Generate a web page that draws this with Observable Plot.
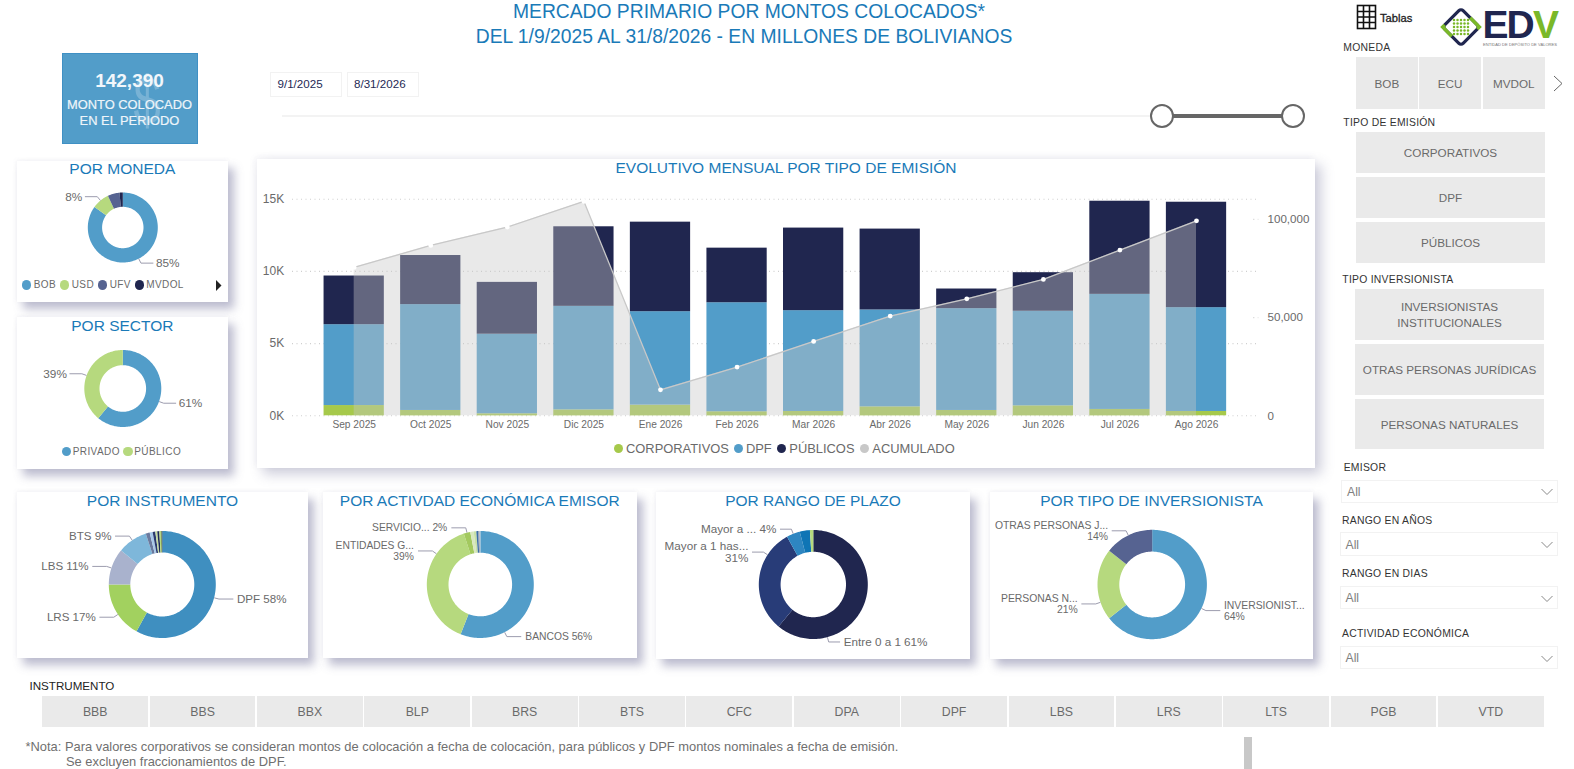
<!DOCTYPE html>
<html lang="es"><head><meta charset="utf-8">
<script src="https://cdn.jsdelivr.net/npm/d3@7"></script>
<script src="https://cdn.jsdelivr.net/npm/@observablehq/plot@0.6"></script>
<style>
html,body{margin:0;padding:0;background:#fff;width:1574px;height:769px;overflow:hidden;font-family:"Liberation Sans",Arial,sans-serif}
#page{position:relative;width:1574px;height:769px;overflow:hidden}
.a{position:absolute;box-sizing:border-box}
.card{position:absolute;background:#fff;box-shadow:6px 7px 9px rgba(95,95,140,.42),-1px -1px 4px rgba(120,120,150,.08)}
.ttl{position:absolute;left:0;right:0;text-align:center;color:#1a7ab8;font-size:15.5px;white-space:nowrap}
.btn{position:absolute;box-sizing:border-box;background:#eaeaea;color:#6a6a6a;font-size:11.7px;display:flex;align-items:center;justify-content:center;text-align:center;line-height:16px;padding-top:1.5px}
.btn.wide{font-size:12.3px}
.lbl{position:absolute;color:#333;font-size:10.4px;letter-spacing:.25px;white-space:nowrap;line-height:12px}
.sel{position:absolute;box-sizing:border-box;background:#fff;border:1.5px solid #f2f2f2;color:#808080;font-size:12.2px;display:flex;align-items:center;padding-left:5px;padding-top:1.5px}
.leg{position:absolute;white-space:nowrap;color:#6a6a6a}
.dotk{position:absolute;border-radius:50%}
svg{display:block}
</style></head><body><div id="page"></div>
<script>
// ---------- Monthly chart ----------
const months = ["Sep 2025","Oct 2025","Nov 2025","Dic 2025","Ene 2026","Feb 2026","Mar 2026","Abr 2026","May 2026","Jun 2026","Jul 2026","Ago 2026"];
const corporativos = [710,370,140,410,740,280,300,620,370,690,440,300];
const dpf = [5600,7330,5510,7170,6470,7550,6980,6710,7050,6550,7970,7190];
const publicos = [3370,3400,3590,5510,6200,3780,5720,5600,1360,2670,6450,7300];
const acumulado = [75560,86760,96080,109160,13240,24800,37880,50760,59570,69450,84370,99290];
const seriesNames = ["CORPORATIVOS","DPF","PÚBLICOS"];
const seriesColors = ["#a6c94b","#529dc9","#20264f"];
const leftTicks = [0,5000,10000,15000];
const rightTicks = [0,50000,100000];

// ---------- Donuts ----------
const monedaNames = ["BOB","USD","UFV","MVDOL"];
const monedaValues = [85,8,5.5,1.5];
const monedaColors = ["#529dc9","#b6d97e","#566391","#20264f"];
const monedaLabels = ["85%","8%",null,null];

const sectorNames = ["PRIVADO","PÚBLICO"];
const sectorValues = [61,39];
const sectorColors = ["#529dc9","#b6d97e"];
const sectorLabels = ["61%","39%"];

const instrumentoNames = ["DPF","LRS","LBS","BTS","BBB","BBS","BBX","BLP","BRS","CFC","PGB","VTD"];
const instrumentoValues = [58,17,11,9,1.2,.9,.8,.6,.6,.4,.3,.2];
const instrumentoColors = ["#3f8fc0","#a2d15f","#a9b2cd","#7eb7da","#6b7a9e","#a8c8e8","#2b3a6e","#c4dba0","#1f2a5a","#b6d97e","#88b040","#20264f"];
const instrumentoLabels = ["DPF 58%","LRS 17%","LBS 11%","BTS 9%",null,null,null,null,null,null,null,null];

const actividadValues = [56,39,2,1,.8,.6,.4,.2];
const actividadColors = ["#529dc9","#b6d97e","#a3c95f","#d9e8c0","#c8e0a8","#3b6ea8","#8a94a8","#cfd6e0"];
const actividadLabels = ["BANCOS 56%","ENTIDADES G...\n39%","SERVICIO... 2%",null,null,null,null,null];

const plazoValues = [61,31,4,3,1];
const plazoColors = ["#20264f","#283c78","#2e86c1","#0f75b5","#b6d97e"];
const plazoLabels = ["Entre 0 a 1 61%","Mayor a 1 has...\n31%","Mayor a ... 4%",null,null];

const inversionistaValues = [64.4,21.2,14.4];
const inversionistaColors = ["#529dc9","#b6d97e","#566391"];
const inversionistaLabels = ["INVERSIONIST...\n64%","PERSONAS N...\n21%","OTRAS PERSONAS J...\n14%"];

// ---------- Slicers ----------
const monedaBtns = ["BOB","ECU","MVDOL"];
const emisionBtns = ["CORPORATIVOS","DPF","PÚBLICOS"];
const inversionistaBtns = ["INVERSIONISTAS<br>INSTITUCIONALES","OTRAS PERSONAS JURÍDICAS","PERSONAS NATURALES"];
const instrumentoBtns = ["BBB","BBS","BBX","BLP","BRS","BTS","CFC","DPA","DPF","LBS","LRS","LTS","PGB","VTD"];

const page = document.getElementById("page");
function add(cls, x, y, w, h, html, css, parent){
  const e = document.createElement("div"); e.className = cls;
  e.style.left = x+"px"; e.style.top = y+"px";
  if (w!=null) e.style.width = w+"px"; if (h!=null) e.style.height = h+"px";
  if (html!=null) e.innerHTML = html; if (css) e.style.cssText += css;
  (parent||page).appendChild(e); return e;
}
function title(parent, text, y){ const t = document.createElement("div"); t.className="ttl"; t.style.top=y+"px"; t.textContent=text; parent.appendChild(t); }

// Header
add("a",294,1,900,26,"MERCADO PRIMARIO POR MONTOS COLOCADOS*","text-align:center;color:#1a7ab8;font-size:19.3px;line-height:22px;padding-left:10px");
add("a",300,26,888,26,"DEL 1/9/2025 AL 31/8/2026 - EN MILLONES DE BOLIVIANOS","text-align:center;color:#1a7ab8;font-size:19.3px;line-height:22px");

// KPI
const kpi = add("a",62,52.5,135.5,91.5,null,"background:#529dc9;border:1px solid #3f90c4;color:#fff;text-align:center;overflow:hidden");
add("a",64,10,40,72,"$","font-size:68px;line-height:72px;color:rgba(255,255,255,.22);text-align:center;transform:scaleX(.72)",kpi);
add("a",0,14,133,26,"142,390","font-size:19px;line-height:26px;font-weight:700;color:#f2f7fb",kpi);
add("a",0,43,133,16,"MONTO COLOCADO","font-size:12.9px;line-height:16px;color:#eef5fa;-webkit-text-stroke:.2px #eef5fa;white-space:nowrap",kpi);
add("a",0,59,133,16,"EN EL PERIODO","font-size:12.9px;line-height:16px;color:#eef5fa;-webkit-text-stroke:.2px #eef5fa;white-space:nowrap",kpi);

// Date range slicer
add("a",269.5,72,72.5,25,"9/1/2025","border:1.5px solid #f2f2f2;font-size:11.6px;color:#252a55;line-height:22px;padding-left:7px");
add("a",347,72,72,25,"8/31/2026","border:1.5px solid #f2f2f2;font-size:11.6px;color:#252a55;line-height:22px;padding-left:6px");
add("a",282,114.5,880,2.5,null,"background:#f3f3f3");
add("a",1162,114,131,4,null,"background:#666");
add("a",1150,104,24,24,null,"border:2px solid #666;border-radius:50%;background:#fff");
add("a",1281,104,24,24,null,"border:2px solid #666;border-radius:50%;background:#fff");

// Right header: Tablas + logo
add("a",1356,4,22,26,`<svg width="22" height="26"><g fill="none" stroke="#111" stroke-width="1.6"><rect x="1.5" y="1.5" width="18" height="23"/><path d="M7.5 1.5V24.5M13.5 1.5V24.5M1.5 7.5H19.5M1.5 13H19.5M1.5 18.5H19.5"/></g></svg>`);
add("a",1380,10.5,50,14,"Tablas","font-size:11.2px;line-height:14px;color:#222;-webkit-text-stroke:.3px #222");
const logoDots = d3.range(0,5).flatMap(i=>d3.range(0,5).map(j=>`<circle cx="${16+i*3.5}" cy="${16+j*3.5}" r="1.25"/>`)).join("");
add("a",1438,4,46,46,`<svg width="46" height="46" viewBox="0 0 46 46"><g transform="rotate(45 23 23)"><rect x="10" y="10" width="26" height="26" rx="3" fill="#fff" stroke="#20264f" stroke-width="3.2"/><path d="M36 13V10H23M10 33V36H23" fill="none" stroke="#7ab829" stroke-width="3.4"/></g><g fill="#7ab829">${logoDots}</g></svg>`);
add("a",1482.5,1,80,40,`<span style="color:#20264f">ED</span><span style="color:#7ab829">V</span>`,"font-size:39px;line-height:48px;font-weight:700;letter-spacing:-1.9px;white-space:nowrap");
add("a",1483,41,74,7,"ENTIDAD DE DEPÓSITO DE VALORES","font-size:4.1px;line-height:7px;color:#777;white-space:nowrap");

// Right slicers
add("lbl",1343.3,41.5,null,null,"MONEDA");
monedaBtns.forEach((t,i)=> add("btn",[1356,1419,1482.7][i],56.7,[61.7,62,62.3][i],52.6,t));
add("a",1552,74,12,20,`<svg width="12" height="20"><path d="M2 2L10 9.5L2 17" fill="none" stroke="#666" stroke-width="1"/></svg>`);
add("lbl",1343.3,117,null,null,"TIPO DE EMISIÓN");
emisionBtns.forEach((t,i)=> add("btn",1356,[131.7,176.7,221.7][i],189,41.2,t));
add("lbl",1342.3,274,null,null,"TIPO INVERSIONISTA");
inversionistaBtns.forEach((t,i)=> add("btn",1355,[289,344.3,399][i],189,[51.3,50.7,50][i],t));
const selects = [["EMISOR",1343.7,468.3,1341,480,22.7],["RANGO EN AÑOS",1342,520.6,1339.5,532.3,23.4],["RANGO EN DIAS",1342,574.3,1339.5,586,23.3],["ACTIVIDAD ECONÓMICA",1342,634.3,1339.5,646,23.3]];
selects.forEach(([t,lx,ly,sx,sy,sh])=>{
  add("lbl",lx,ly-6,null,null,t);
  const s = add("sel",sx,sy,1557.7-sx,sh,"All");
  add("a",1557.7-sx-18,sh/2-4,12,8,`<svg width="12" height="8"><path d="M.5 1L6 6.5L11.5 1" fill="none" stroke="#888" stroke-width="1"/></svg>`,null,s);
});

// Instrument strip
add("a",29.5,679,120,14,"INSTRUMENTO","font-size:11.6px;line-height:14px;color:#222");
instrumentoBtns.forEach((t,i)=> add("btn wide",42.3+i*107.36,696,105.8,30.7,t));

// Note
add("a",25.5,739,1000,15,"*Nota: Para valores corporativos se consideran montos de colocación a fecha de colocación, para públicos y DPF montos nominales a fecha de emisión.","font-size:12.9px;line-height:15px;color:#6f6f6f;white-space:nowrap");
add("a",66,753.5,600,15,"Se excluyen fraccionamientos de DPF.","font-size:12.9px;line-height:15px;color:#6f6f6f;white-space:nowrap");
add("a",1244,737.3,8,32,null,"background:#c8c8c8");

// ---------- Donut helper ----------
function donut(cfg){
  const {card:[X,Y,W,H],cx,cy,r,r0,values,colors,labels,ttl,ttlY,fontSize=12,len=14,gap=4,angles={},labelColor="#6a6a6a"} = cfg;
  const c = add("card",X,Y,W,H);
  title(c,ttl,ttlY);
  const ox = cx-X, oy = cy-Y;
  const pie = d3.pie().sort(null).startAngle(0).endAngle(2*Math.PI)(values);
  const verts = [], leaders = [], texts = [];
  pie.forEach((p,i)=>{
    const n = Math.max(2,Math.ceil((p.endAngle-p.startAngle)/0.03));
    for (let k=0;k<=n;k++){ const a=p.startAngle+(p.endAngle-p.startAngle)*k/n; verts.push({i,c:colors[i],x:ox+r*Math.sin(a),y:oy-r*Math.cos(a)}); }
    for (let k=n;k>=0;k--){ const a=p.startAngle+(p.endAngle-p.startAngle)*k/n; verts.push({i,c:colors[i],x:ox+r0*Math.sin(a),y:oy-r0*Math.cos(a)}); }
    if (labels[i]){
      const a = angles[i]!=null ? angles[i]*Math.PI/180 : (p.startAngle+p.endAngle)/2;
      const s = Math.sin(a)>=0?1:-1;
      const x0=ox+(r+0.5)*Math.sin(a), y0=oy-(r+0.5)*Math.cos(a), x1=ox+(r+5)*Math.sin(a), y1=oy-(r+5)*Math.cos(a), x2=x1+s*len;
      leaders.push({i,x:x0,y:y0},{i,x:x1,y:y1},{i,x:x2,y:y1});
      texts.push({t:labels[i],x:x2+s*gap,y:y1,s});
    }
  });
  const svg = Plot.plot({
    width:W,height:H,margin:0,
    style:{background:"transparent",fontFamily:"'Liberation Sans',Arial,sans-serif",overflow:"visible"},
    x:{domain:[0,W],range:[0,W],axis:null},
    y:{domain:[0,H],range:[0,H],axis:null},
    color:{type:"identity"},
    marks:[
      Plot.line(verts,{x:"x",y:"y",z:"i",fill:"c",stroke:"none",curve:"linear-closed"}),
      Plot.line(leaders,{x:"x",y:"y",z:"i",stroke:"#9c9cae",strokeWidth:1}),
      Plot.text(texts.filter(d=>d.s>0),{x:"x",y:"y",text:"t",textAnchor:"start",lineAnchor:"middle",fill:labelColor,fontSize,lineHeight:1.08}),
      Plot.text(texts.filter(d=>d.s<0),{x:"x",y:"y",text:"t",textAnchor:"end",lineAnchor:"middle",fill:labelColor,fontSize,lineHeight:1.08})
    ]
  });
  svg.style.cssText += ";position:absolute;left:0;top:0";
  c.appendChild(svg);
  return c;
}
function legend(parent, names, colors, cxs, txs, y){
  names.forEach((n,i)=>{
    add("dotk",cxs[i]-4.7,y-4.7,9.4,9.4,null,`background:${colors[i]}`,parent);
    add("leg",txs[i],y-7,null,14,n,"font-size:10px;line-height:14px;letter-spacing:.42px",parent);
  });
}

const cm = donut({card:[16.7,161,211.3,140.7],cx:122,cy:227,r:35,r0:20.7,values:monedaValues,colors:monedaColors,labels:monedaLabels,ttl:"POR MONEDA",ttlY:-1,fontSize:11.8,len:12,gap:3});
legend(cm,monedaNames,monedaColors,[10,48,86,122.6],[17,55,93,129.5],124);
add("a",199.5,118.5,6,11,`<svg width="6" height="11"><path d="M0 0L5.5 5.5L0 11Z" fill="#222"/></svg>`,null,cm);

const cs = donut({card:[16.7,317.3,211.3,151.7],cx:122,cy:388.3,r:38.5,r0:23.3,values:sectorValues,colors:sectorColors,labels:sectorLabels,ttl:"POR SECTOR",ttlY:0,fontSize:11.8,len:12,gap:3});
legend(cs,sectorNames,sectorColors,[50,111.3],[56,117.6],134.4);

donut({card:[17,492,291,165.7],cx:161.8,cy:584,r:53.5,r0:32,values:instrumentoValues,colors:instrumentoColors,labels:instrumentoLabels,ttl:"POR INSTRUMENTO",ttlY:0,fontSize:11.6,angles:{1:236,2:288}});
donut({card:[323,492,313.5,165.7],cx:479.8,cy:584,r:53.5,r0:31.8,values:actividadValues,colors:actividadColors,labels:actividadLabels,ttl:"POR ACTIVDAD ECONÓMICA EMISOR",ttlY:0,fontSize:10.3,gap:4.5,angles:{0:153,1:305}});
donut({card:[656,491.7,314,167],cx:812.8,cy:583.7,r:54.5,r0:32.7,values:plazoValues,colors:plazoColors,labels:plazoLabels,ttl:"POR RANGO DE PLAZO",ttlY:0,fontSize:11.7,len:11,angles:{0:165,1:303}});
donut({card:[990,491.7,323,167],cx:1151.7,cy:583.7,r:54.7,r0:32.9,values:inversionistaValues,colors:inversionistaColors,labels:inversionistaLabels,ttl:"POR TIPO DE INVERSIONISTA",ttlY:0,fontSize:10.4,angles:{1:251}});

// ---------- Monthly chart ----------
const main = add("card",257,159,1058,309,null,"box-shadow:6px 6px 12px rgba(95,95,140,.32),-2px -2px 6px rgba(120,120,150,.08)");
title(main,"EVOLUTIVO MENSUAL POR TIPO DE EMISIÓN",0);
const accScale = 0.136; // Plot has one y scale: the right axis is re-expressed in left-axis units
const rows = months.flatMap((m,i)=>[
  {m,s:seriesNames[0],v:corporativos[i]},
  {m,s:seriesNames[1],v:dpf[i]},
  {m,s:seriesNames[2],v:publicos[i]}
]);
const accRows = months.map((m,i)=>({m,v:acumulado[i]*accScale}));
const mainW=1058, mainL=58.4, mainR=80.7;
const svg = Plot.plot({
  width:mainW,height:309,marginLeft:mainL,marginRight:mainR,marginTop:39.7,marginBottom:52.7,
  style:{background:"transparent",fontFamily:"'Liberation Sans',Arial,sans-serif",overflow:"visible"},
  x:{domain:months,paddingInner:.213,paddingOuter:.1065,round:false,label:null},
  y:{domain:[0,15000],label:null},
  color:{domain:seriesNames,range:seriesColors},
  marks:[
    Plot.ruleY(leftTicks,{stroke:"#cfcfcf",strokeDasharray:"1 3.5",strokeWidth:1.1,insetLeft:-23.4,insetRight:-23}),
    Plot.ruleY(rightTicks.slice(1).map(d=>d*accScale),{stroke:"#cfcfcf",strokeDasharray:"1 3.5",strokeWidth:1.1,insetLeft:mainW-mainL-mainR+19,insetRight:-24}),
    Plot.barY(rows,{x:"m",y:"v",fill:"s",order:seriesNames}),
    Plot.area(accRows,{x1:"m",y1:0,y2:"v",fill:"#c8c8c8",fillOpacity:.4}),
    Plot.line(accRows,{x:"m",y:"v",stroke:"#c8c8c8",strokeWidth:1.3}),
    Plot.dot(accRows,{x:"m",y:"v",r:2.4,fill:"#fff",stroke:"none"}),
    Plot.axisX({anchor:"bottom",tickSize:0,tickPadding:5,fontSize:10.2,color:"#6a6a6a",label:null}),
    Plot.axisY(leftTicks,{anchor:"left",tickSize:0,tickPadding:31.7,fontSize:12,color:"#6a6a6a",label:null,tickFormat:d=>(d/1000)+"K"}),
    Plot.axisY(rightTicks.map(d=>d*accScale),{anchor:"right",tickSize:0,tickPadding:32.7,fontSize:11.6,color:"#6a6a6a",label:null,tickFormat:d=>d3.format(",")(Math.round(d/accScale))})
  ]
});
svg.style.cssText += ";position:absolute;left:0;top:0";
main.appendChild(svg);
const legendNames = [...seriesNames,"ACUMULADO"];
const legendColors = [...seriesColors,"#c8c8c8"];
[[361.5,369],[481.6,488.9],[524.7,532.3],[607.7,615.3]].forEach(([cx,tx],i)=>{
  add("dotk",cx-4.7,284.7,9.4,9.4,null,`background:${legendColors[i]}`,main);
  add("leg",tx,281,null,18,legendNames[i],"font-size:12.9px;line-height:18px",main);
});
</script></body></html>
